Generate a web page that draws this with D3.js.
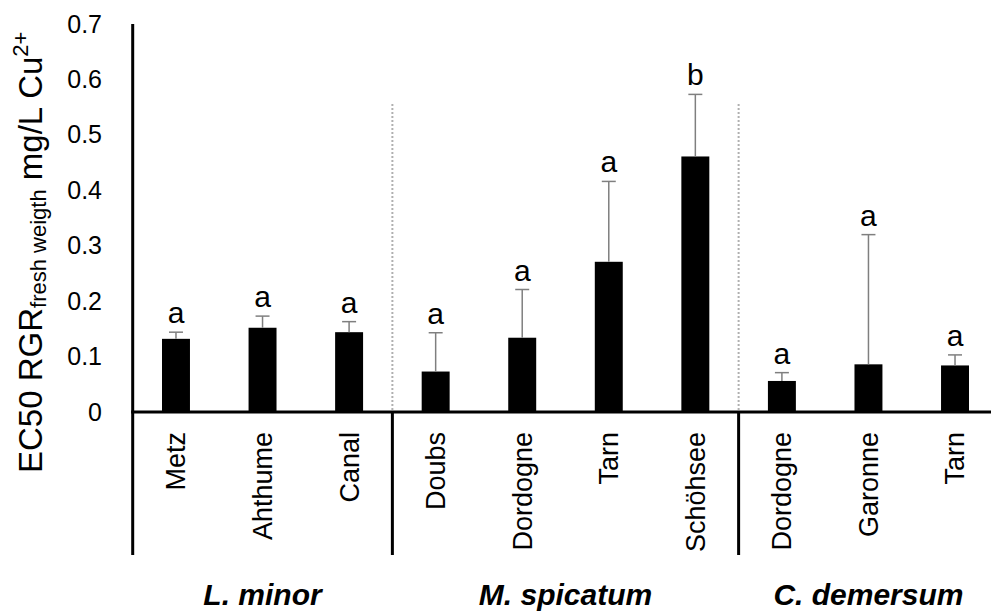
<!DOCTYPE html>
<html>
<head>
<meta charset="utf-8">
<script src="https://cdn.jsdelivr.net/npm/d3@7"></script>
<style>
  html, body { margin: 0; padding: 0; background: #fff; }
  svg { display: block; font-family: "Liberation Sans", Arial, sans-serif; }
</style>
</head>
<body>
<svg id="chart" width="991" height="612"></svg>
<script>
// ---- data ----
const categories = ["Metz", "Ahthume", "Canal", "Doubs", "Dordogne ", "Tarn ", "Schöhsee", "Dordogne", "Garonne", "Tarn"];
const categoryLabels = ["Metz", "Ahthume", "Canal", "Doubs", "Dordogne", "Tarn", "Schöhsee", "Dordogne", "Garonne", "Tarn"];
const ec50 = [0.132, 0.152, 0.144, 0.073, 0.134, 0.271, 0.461, 0.056, 0.086, 0.084];
const errorUp = [0.012, 0.021, 0.019, 0.070, 0.087, 0.145, 0.112, 0.015, 0.234, 0.019];
const letters = ["a", "a", "a", "a", "a", "a", "b", "a", "a", "a"];
const groups = ["L. minor", "M. spicatum", "C. demersum"];
const groupSizes = [3, 4, 3];
const yTicks = [0, 0.1, 0.2, 0.3, 0.4, 0.5, 0.6, 0.7];

// ---- layout ----
const svg = d3.select("#chart");
const x = d3.scaleBand().domain(categories).range([132.7, 998.3]).paddingInner(0.677).paddingOuter(0.677 / 2);
const y = d3.scaleLinear().domain([0, 0.7]).range([412, 24]);
const step = x.step();
const leftEdge = x.range()[0];
const bottomY = 555;

// dotted group separators above axis
const boundaries = [];
let acc = 0;
groupSizes.forEach((n, i) => {
  acc += n;
  if (i < groupSizes.length - 1) boundaries.push(leftEdge + acc * step);
});
svg.selectAll("line.dot").data(boundaries).join("line")
  .attr("x1", d => d).attr("x2", d => d)
  .attr("y1", 104).attr("y2", y(0))
  .attr("stroke", "#b0b0b0").attr("stroke-width", 2).attr("stroke-dasharray", "2,2");

// bars
svg.selectAll("rect.bar").data(categories).join("rect")
  .attr("x", (d) => x(d)).attr("width", x.bandwidth())
  .attr("y", (d, i) => y(ec50[i])).attr("height", (d, i) => y(0) - y(ec50[i]))
  .attr("fill", "#000");

// error bars
const cap = x.bandwidth() / 2;
svg.selectAll("line.err").data(categories).join("line")
  .attr("x1", d => x(d) + x.bandwidth() / 2).attr("x2", d => x(d) + x.bandwidth() / 2)
  .attr("y1", (d, i) => y(ec50[i])).attr("y2", (d, i) => y(ec50[i] + errorUp[i]))
  .attr("stroke", "#7f7f7f").attr("stroke-width", 1.5);
svg.selectAll("line.cap").data(categories).join("line")
  .attr("x1", d => x(d) + x.bandwidth() / 2 - cap / 2).attr("x2", d => x(d) + x.bandwidth() / 2 + cap / 2)
  .attr("y1", (d, i) => y(ec50[i] + errorUp[i])).attr("y2", (d, i) => y(ec50[i] + errorUp[i]))
  .attr("stroke", "#7f7f7f").attr("stroke-width", 1.5);

// significance letters
svg.selectAll("text.letter").data(categories).join("text")
  .attr("x", d => x(d) + x.bandwidth() / 2)
  .attr("y", (d, i) => y(ec50[i] + errorUp[i]) - 9)
  .attr("text-anchor", "middle").attr("font-size", 30).attr("fill", "#000")
  .text((d, i) => letters[i]);

// y axis
const yAxis = d3.axisLeft(y).tickValues(yTicks).tickSize(0).tickPadding(0)
  .tickFormat(d => d === 0 ? "0" : d3.format(".1f")(d));
const gy = svg.append("g").attr("transform", `translate(102,0)`).call(yAxis);
gy.select(".domain").remove();
gy.selectAll("text").attr("font-size", 25).attr("font-family", "Liberation Sans, Arial, sans-serif").attr("fill", "#000").attr("x", 0);

// axis lines
svg.append("line").attr("x1", leftEdge).attr("x2", leftEdge).attr("y1", y(0.7)).attr("y2", bottomY)
  .attr("stroke", "#000").attr("stroke-width", 3);
svg.append("line").attr("x1", leftEdge - 1.5).attr("x2", 991).attr("y1", y(0)).attr("y2", y(0))
  .attr("stroke", "#000").attr("stroke-width", 3);
svg.selectAll("line.sep").data(boundaries).join("line")
  .attr("x1", d => d).attr("x2", d => d).attr("y1", y(0)).attr("y2", bottomY)
  .attr("stroke", "#000").attr("stroke-width", 3);

// category labels
svg.selectAll("text.cat").data(categories).join("text")
  .attr("transform", d => `translate(${x(d) + x.bandwidth() / 2},432) rotate(-90)`)
  .attr("text-anchor", "end").attr("dy", "0.35em").attr("font-size", 27).attr("fill", "#000")
  .text((d, i) => categoryLabels[i]);

// group labels
let a2 = 0;
const groupCenters = groupSizes.map(n => { const c = leftEdge + (a2 + n / 2) * step; a2 += n; return c; });
svg.selectAll("text.grp").data(groups).join("text")
  .attr("x", (d, i) => groupCenters[i]).attr("y", 605)
  .attr("text-anchor", "middle").attr("font-size", 30).attr("font-weight", "bold").attr("font-style", "italic")
  .attr("fill", "#000").text(d => d);

// y title
const t = svg.append("text").attr("transform", "translate(42,473) rotate(-90)")
  .attr("text-anchor", "start").attr("font-size", 33).attr("fill", "#000");
t.append("tspan").text("EC50 RGR");
t.append("tspan").attr("font-size", 22).attr("dy", 4).text("fresh weigth");
t.append("tspan").attr("dy", -4).text(" mg/L Cu");
t.append("tspan").attr("font-size", 22).attr("dy", -14).text("2+");
</script>
</body>
</html>
